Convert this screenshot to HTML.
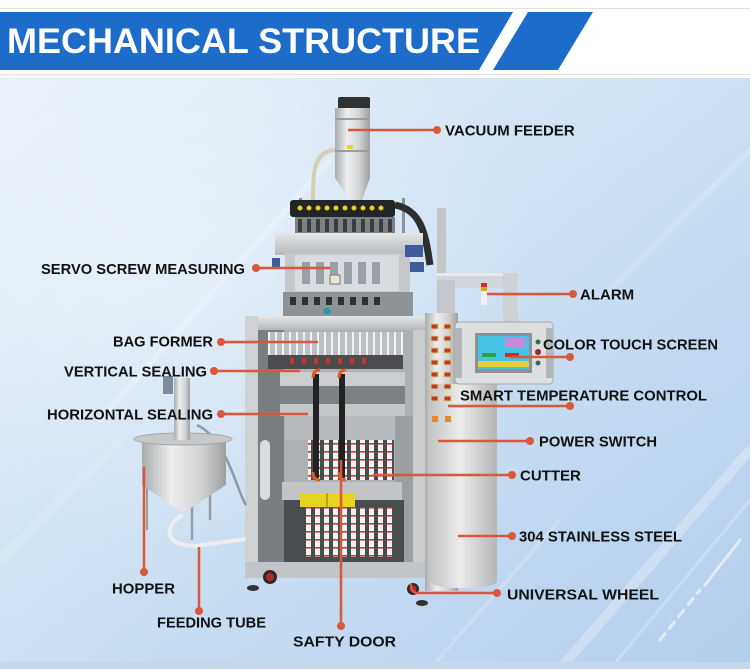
<!DOCTYPE html>
<html><head><meta charset="utf-8"><style>
html,body{margin:0;padding:0;background:#fff;}
svg{display:block;}
text{font-family:"Liberation Sans",Arial,sans-serif;}
</style></head><body>
<svg width="750" height="669" viewBox="0 0 750 669" xmlns="http://www.w3.org/2000/svg">
<defs>
  <linearGradient id="bg" x1="0" y1="0" x2="1" y2="1">
    <stop offset="0" stop-color="#e6f0f9"/>
    <stop offset="0.45" stop-color="#d0e2f3"/>
    <stop offset="1" stop-color="#b2cdec"/>
  </linearGradient>
  <radialGradient id="glow" cx="0.2" cy="0.3" r="0.5">
    <stop offset="0" stop-color="#ffffff" stop-opacity="0.35"/>
    <stop offset="1" stop-color="#ffffff" stop-opacity="0"/>
  </radialGradient>
  <linearGradient id="metalH" x1="0" y1="0" x2="1" y2="0">
    <stop offset="0" stop-color="#a9abad"/>
    <stop offset="0.35" stop-color="#eeeeee"/>
    <stop offset="0.7" stop-color="#d2d3d4"/>
    <stop offset="1" stop-color="#9c9ea0"/>
  </linearGradient>
  <linearGradient id="metalV" x1="0" y1="0" x2="0" y2="1">
    <stop offset="0" stop-color="#e6e7e8"/>
    <stop offset="1" stop-color="#b5b7b9"/>
  </linearGradient>
  <linearGradient id="cyl" x1="0" y1="0" x2="1" y2="0">
    <stop offset="0" stop-color="#c2c4c6"/>
    <stop offset="0.45" stop-color="#ececec"/>
    <stop offset="1" stop-color="#b3b5b7"/>
  </linearGradient>
  <pattern id="sticks" width="9" height="8" patternUnits="userSpaceOnUse">
    <rect x="0" y="0" width="9" height="8" fill="#4a4d50"/>
    <rect x="0" y="0" width="5" height="8" fill="#f2f2f2"/>
    <rect x="0" y="3" width="5" height="1.6" fill="#d8323a"/>
  </pattern>
  <pattern id="former" width="7" height="40" patternUnits="userSpaceOnUse">
    <rect width="7" height="40" fill="#bcc0c4"/>
    <rect x="2" width="2" height="40" fill="#f0f2f4"/>
  </pattern>
</defs>

<!-- header -->
<rect x="0" y="0" width="750" height="78" fill="#ffffff"/>
<rect x="0" y="8" width="750" height="1" fill="#e6dde1"/>
<rect x="0" y="74" width="750" height="1" fill="#e2e2e6"/>
<polygon points="0,12 513,12 479,70 0,70" fill="#1e6cc9"/>
<polygon points="528,12 593,12 558,70 493,70" fill="#1e6cc9"/>
<text x="7" y="53" font-size="35" font-weight="bold" fill="#ffffff" textLength="473" lengthAdjust="spacingAndGlyphs">MECHANICAL STRUCTURE</text>

<!-- background -->
<rect x="0" y="78" width="750" height="591" fill="url(#bg)"/>
<rect x="0" y="78" width="750" height="591" fill="url(#glow)"/>
<g stroke="#ffffff" stroke-linecap="round" fill="none">
  <line x1="100" y1="420" x2="330" y2="160" stroke-width="6" opacity="0.25"/>
  <line x1="560" y1="669" x2="750" y2="450" stroke-width="10" opacity="0.3"/>
  <line x1="610" y1="669" x2="750" y2="500" stroke-width="3" opacity="0.25"/>
  <line x1="660" y1="640" x2="700" y2="590" stroke-width="3" opacity="0.6" stroke-dasharray="8 7"/>
  <line x1="705" y1="585" x2="740" y2="540" stroke-width="3" opacity="0.6"/>
  <line x1="430" y1="669" x2="560" y2="520" stroke-width="4" opacity="0.2"/>
  <line x1="0" y1="560" x2="120" y2="440" stroke-width="8" opacity="0.15"/>
  <line x1="600" y1="300" x2="750" y2="150" stroke-width="6" opacity="0.2"/>
</g>
<rect x="0" y="662" width="750" height="7" fill="#c6d7ea"/>

<!-- ===== machine ===== -->
<path d="M337 150 C312 150 313 175 313 205" stroke="#d6cfb2" stroke-width="4" fill="none"/>
<rect x="338" y="97" width="32" height="12" rx="2" fill="#2f3133"/>
<rect x="335" y="108" width="35" height="70" fill="url(#metalH)"/>
<rect x="335" y="118" width="35" height="2" fill="#9a9c9e"/>
<rect x="335" y="150" width="35" height="2" fill="#9a9c9e"/>
<rect x="347" y="145" width="6" height="4" fill="#e8d420"/>
<polygon points="335,178 370,178 362,200 350,200" fill="url(#metalH)"/>

<rect x="299" y="198" width="3" height="122" fill="#8f9295"/>
<rect x="402" y="198" width="3" height="122" fill="#8f9295"/>
<rect x="290" y="200" width="105" height="17" rx="3" fill="#222426"/>
<g fill="#e8d21a">
  <circle cx="300" cy="208" r="2.5"/><circle cx="309" cy="208" r="2.5"/><circle cx="318" cy="208" r="2.5"/>
  <circle cx="327" cy="208" r="2.5"/><circle cx="336" cy="208" r="2.5"/><circle cx="345" cy="208" r="2.5"/>
  <circle cx="354" cy="208" r="2.5"/><circle cx="363" cy="208" r="2.5"/><circle cx="372" cy="208" r="2.5"/>
  <circle cx="381" cy="208" r="2.5"/>
</g>
<rect x="295" y="217" width="100" height="16" fill="#7d8185"/>
<g fill="#3a3c3e">
  <rect x="298" y="219" width="4" height="13"/><rect x="307" y="219" width="4" height="13"/><rect x="316" y="219" width="4" height="13"/>
  <rect x="325" y="219" width="4" height="13"/><rect x="334" y="219" width="4" height="13"/><rect x="343" y="219" width="4" height="13"/>
  <rect x="352" y="219" width="4" height="13"/><rect x="361" y="219" width="4" height="13"/><rect x="370" y="219" width="4" height="13"/>
  <rect x="379" y="219" width="4" height="13"/><rect x="388" y="219" width="4" height="13"/>
</g>
<path d="M395 205 C420 210 425 230 430 265" stroke="#2c2e30" stroke-width="7" fill="none"/>
<rect x="437" y="208" width="9" height="70" fill="#c3c5c7"/>
<rect x="275" y="233" width="148" height="22" fill="url(#metalV)"/>
<rect x="285" y="253" width="125" height="40" fill="#c5c8cb"/>
<rect x="295" y="255" width="104" height="36" fill="#d7dce1"/>
<g fill="#9aa0a6">
  <rect x="302" y="262" width="8" height="22"/><rect x="316" y="262" width="8" height="22"/><rect x="330" y="262" width="8" height="22"/>
  <rect x="344" y="262" width="8" height="22"/><rect x="358" y="262" width="8" height="22"/><rect x="372" y="262" width="8" height="22"/>
</g>
<rect x="330" y="275" width="10" height="9" fill="#e8e4d0" stroke="#777" stroke-width="1"/>
<rect x="283" y="292" width="130" height="24" fill="#8d9296"/>
<g fill="#2e3032"><rect x="290" y="297" width="6" height="8"/><rect x="302" y="297" width="6" height="8"/><rect x="314" y="297" width="6" height="8"/><rect x="326" y="297" width="6" height="8"/><rect x="338" y="297" width="6" height="8"/><rect x="350" y="297" width="6" height="8"/><rect x="362" y="297" width="6" height="8"/><rect x="374" y="297" width="6" height="8"/></g>
<circle cx="327" cy="311" r="3.5" fill="#1f9aa8"/>
<rect x="405" y="245" width="18" height="12" fill="#3c5c9c"/>
<rect x="410" y="262" width="14" height="10" fill="#3c5c9c"/>
<rect x="272" y="258" width="8" height="10" fill="#3c5c9c"/>

<rect x="437" y="273" width="80" height="15" fill="#d3d7db"/>
<rect x="437" y="273" width="80" height="3" fill="#e8ebee"/>
<rect x="503" y="273" width="15" height="50" fill="#cdd1d5"/>
<rect x="437" y="280" width="18" height="40" fill="#c4c8cc"/>
<rect x="481" y="283" width="6" height="4" fill="#c8322e"/>
<rect x="481" y="287" width="6" height="4" fill="#e0a810"/>
<rect x="481" y="291" width="6" height="14" fill="#f0f0f0"/>

<!-- main frame -->
<rect x="245" y="316" width="180" height="262" fill="#adb1b5"/>
<rect x="245" y="316" width="180" height="14" fill="url(#metalV)"/>
<rect x="245" y="316" width="13" height="262" fill="#cfd1d3"/>
<rect x="258" y="330" width="26" height="245" fill="#7a7e82"/>
<rect x="260" y="440" width="10" height="60" rx="5" fill="#d9dde0"/>
<rect x="268" y="332" width="135" height="25" fill="url(#former)"/>
<rect x="268" y="355" width="135" height="14" fill="#4a4c4e"/>
<g fill="#c0392b"><rect x="290" y="358" width="4" height="6"/><rect x="302" y="358" width="4" height="6"/><rect x="314" y="358" width="4" height="6"/><rect x="326" y="358" width="4" height="6"/><rect x="338" y="358" width="4" height="6"/><rect x="350" y="358" width="4" height="6"/><rect x="362" y="358" width="4" height="6"/></g>
<rect x="280" y="372" width="125" height="14" fill="#cbcdcf"/>
<rect x="280" y="386" width="125" height="18" fill="#7c8186"/>
<rect x="280" y="404" width="125" height="12" fill="#c4c6c8"/>
<rect x="285" y="416" width="118" height="24" fill="#b7bbbf"/>
<rect x="308" y="440" width="86" height="40" fill="url(#sticks)"/>
<rect x="395" y="416" width="18" height="150" fill="#9a9fa4"/>
<rect x="413" y="330" width="12" height="248" fill="#c9cbcd"/>
<rect x="282" y="482" width="120" height="18" fill="#c2c4c6"/>
<rect x="284" y="500" width="120" height="62" fill="#4a4d50"/>
<rect x="303" y="507" width="90" height="50" fill="url(#sticks)"/>
<rect x="300" y="493" width="55" height="14" fill="#e6d41e"/>
<rect x="326" y="493" width="2" height="14" fill="#b8a810"/>
<rect x="245" y="562" width="180" height="16" fill="#c2c5c8"/>
<rect x="313" y="374" width="6" height="104" fill="#222"/>
<rect x="339" y="374" width="6" height="104" fill="#222"/>
<path d="M313 378 C313 372 316 370 320 370" stroke="#e05a20" stroke-width="3" fill="none"/>
<path d="M339 378 C339 372 342 370 346 370" stroke="#e05a20" stroke-width="3" fill="none"/>
<path d="M313 472 C313 478 316 480 320 480" stroke="#e05a20" stroke-width="3" fill="none"/>
<path d="M339 472 C339 478 342 480 346 480" stroke="#e05a20" stroke-width="3" fill="none"/>
<circle cx="270" cy="577" r="7" fill="#2a2a2a"/><circle cx="270" cy="577" r="4" fill="#b8262a"/>
<ellipse cx="253" cy="588" rx="6" ry="3" fill="#333"/>
<circle cx="413" cy="589" r="6" fill="#2a2a2a"/><circle cx="413" cy="589" r="3.5" fill="#b8262a"/>
<ellipse cx="422" cy="603" rx="6" ry="3" fill="#333"/>

<!-- cabinet -->
<rect x="425" y="313" width="33" height="278" fill="url(#metalH)"/>
<path d="M430 384 L497 384 L497 580 Q497 588 463 588 Q430 588 430 580 Z" fill="url(#cyl)"/>
<g fill="#c0392b" stroke="#d8cf70" stroke-width="1">
  <rect x="431" y="324" width="7" height="5"/><rect x="444" y="324" width="7" height="5"/>
  <rect x="431" y="336" width="7" height="5"/><rect x="444" y="336" width="7" height="5"/>
  <rect x="431" y="348" width="7" height="5"/><rect x="444" y="348" width="7" height="5"/>
  <rect x="431" y="360" width="7" height="5"/><rect x="444" y="360" width="7" height="5"/>
  <rect x="431" y="372" width="7" height="5"/><rect x="444" y="372" width="7" height="5"/>
  <rect x="431" y="384" width="7" height="5"/><rect x="444" y="384" width="7" height="5"/>
  <rect x="431" y="396" width="7" height="5"/><rect x="444" y="396" width="7" height="5"/>
</g>
<rect x="432" y="416" width="6" height="6" fill="#e08a30"/><rect x="445" y="416" width="6" height="6" fill="#e08a30"/>

<rect x="455" y="322" width="98" height="62" rx="4" fill="#dcdee0" stroke="#a6a9ac" stroke-width="1"/>
<rect x="455" y="328" width="7" height="50" fill="#b4b7ba"/>
<rect x="546" y="328" width="7" height="50" fill="#b4b7ba"/>
<rect x="475" y="333" width="57" height="40" fill="#8e9296"/>
<rect x="478" y="336" width="51" height="33" fill="#45c4e6"/>
<rect x="505" y="338" width="20" height="10" fill="#c98ad8"/>
<rect x="482" y="353" width="14" height="4" fill="#2da23a"/>
<rect x="505" y="353" width="14" height="4" fill="#d8262a"/>
<rect x="478" y="361" width="51" height="6" fill="#e6cf3a"/>
<circle cx="538" cy="342" r="2.5" fill="#2b6e5a"/>
<circle cx="538" cy="352" r="3" fill="#8a2a2a"/>
<circle cx="538" cy="363" r="2.5" fill="#2b6e5a"/>

<!-- hopper -->
<path d="M197 425 C228 440 236 490 246 505" stroke="#8c99a6" stroke-width="2.5" fill="none"/>
<path d="M183 515 C168 522 158 545 195 546 L246 539" stroke="#eeeeee" stroke-width="4" fill="none"/>
<line x1="147" y1="485" x2="147" y2="530" stroke="#9a9c9e" stroke-width="2"/>
<line x1="192" y1="505" x2="192" y2="540" stroke="#9a9c9e" stroke-width="2.5"/>
<line x1="210" y1="495" x2="210" y2="520" stroke="#9a9c9e" stroke-width="2.5"/>
<path d="M142 441 L226 441 L226 485 L183 513 L142 485 Z" fill="url(#metalH)"/>
<ellipse cx="183" cy="439" rx="49" ry="6" fill="#c6c8ca" stroke="#a3a5a7" stroke-width="1"/>
<rect x="174" y="378" width="16" height="62" fill="url(#metalH)"/>
<rect x="163" y="376" width="10" height="18" fill="#7d8c9c"/>

<!-- connectors -->
<g stroke="#d9573a" stroke-width="2.5" fill="none">
  <line x1="348" y1="130" x2="437" y2="130"/>
  <line x1="256" y1="268" x2="330" y2="268"/>
  <line x1="487" y1="294" x2="573" y2="294"/>
  <line x1="510" y1="357" x2="570" y2="357"/>
  <line x1="448" y1="406" x2="570" y2="406"/>
  <line x1="438" y1="441" x2="530" y2="441"/>
  <line x1="373" y1="475" x2="512" y2="475"/>
  <line x1="458" y1="536" x2="512" y2="536"/>
  <path d="M411 584 C411 590 413 593 418 593 L497 593"/>
  <line x1="221" y1="342" x2="318" y2="342"/>
  <line x1="214" y1="371" x2="300" y2="371"/>
  <line x1="221" y1="414" x2="308" y2="414"/>
  <line x1="144" y1="467" x2="144" y2="572"/>
  <line x1="199" y1="547" x2="199" y2="611"/>
  <line x1="341" y1="460" x2="341" y2="626"/>
</g>
<g fill="#d9573a">
  <circle cx="437" cy="130" r="4"/>
  <circle cx="256" cy="268" r="4"/>
  <circle cx="573" cy="294" r="4"/>
  <circle cx="570" cy="357" r="4"/>
  <circle cx="570" cy="406" r="4"/>
  <circle cx="530" cy="441" r="4"/>
  <circle cx="512" cy="475" r="4"/>
  <circle cx="512" cy="536" r="4"/>
  <circle cx="497" cy="593" r="4"/>
  <circle cx="221" cy="342" r="4"/>
  <circle cx="214" cy="371" r="4"/>
  <circle cx="221" cy="414" r="4"/>
  <circle cx="144" cy="572" r="4"/>
  <circle cx="199" cy="611" r="4"/>
  <circle cx="341" cy="626" r="4"/>
</g>

<!-- labels -->
<g font-size="15" font-weight="bold" fill="#111">
  <text x="445" y="135.5">VACUUM FEEDER</text>
  <text x="41" y="274" textLength="204" lengthAdjust="spacingAndGlyphs">SERVO SCREW MEASURING</text>
  <text x="580" y="299.5">ALARM</text>
  <text x="543" y="349.5" textLength="175" lengthAdjust="spacingAndGlyphs">COLOR TOUCH SCREEN</text>
  <text x="460" y="400.5" textLength="247" lengthAdjust="spacingAndGlyphs">SMART TEMPERATURE CONTROL</text>
  <text x="539" y="446.5" textLength="118" lengthAdjust="spacingAndGlyphs">POWER SWITCH</text>
  <text x="520" y="480.5">CUTTER</text>
  <text x="519" y="541.5" textLength="163" lengthAdjust="spacingAndGlyphs">304 STAINLESS STEEL</text>
  <text x="507" y="599.5" textLength="152" lengthAdjust="spacingAndGlyphs">UNIVERSAL WHEEL</text>
  <text x="113" y="346.5" textLength="100" lengthAdjust="spacingAndGlyphs">BAG FORMER</text>
  <text x="64" y="376.5" textLength="143" lengthAdjust="spacingAndGlyphs">VERTICAL SEALING</text>
  <text x="47" y="419.5" textLength="166" lengthAdjust="spacingAndGlyphs">HORIZONTAL SEALING</text>
  <text x="112" y="593.5" textLength="63" lengthAdjust="spacingAndGlyphs">HOPPER</text>
  <text x="157" y="627.5" textLength="109" lengthAdjust="spacingAndGlyphs">FEEDING TUBE</text>
  <text x="293" y="646.5" textLength="103" lengthAdjust="spacingAndGlyphs">SAFTY DOOR</text>
</g>
</svg>
</body></html>
